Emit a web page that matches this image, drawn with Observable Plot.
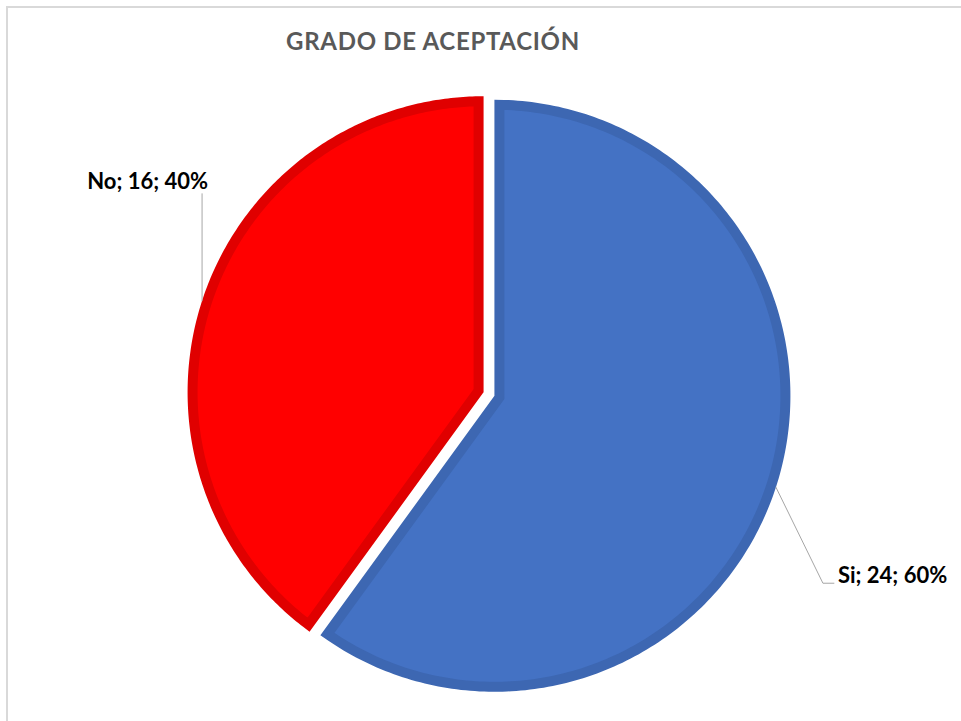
<!DOCTYPE html>
<html><head><meta charset="utf-8">
<script src="https://cdn.jsdelivr.net/npm/d3@7"></script>
<script src="https://cdn.jsdelivr.net/npm/@observablehq/plot@0.6"></script>
<style>
body{margin:0;background:#fff;}
#wrap{position:relative;width:961px;height:721px;overflow:hidden;background:#fff;}
#wrap svg{position:absolute;left:0;top:0;}
#frame{position:absolute;left:6px;top:6px;width:1000px;height:1000px;border-left:2px solid #d9d9d9;border-top:2px solid #d9d9d9;pointer-events:none;}
</style></head><body><div id="wrap"><div id="frame"></div></div>
<script>
const title = "GRADO DE ACEPTACIÓN";
const categories = ["Si", "No"];
const values = [24, 16];
const fills = ["#4472C4", "#FF0000"];
const borders = ["#3D67B2", "#E00000"];

// layout (styles)
const W = 961, H = 721, cx = 488.5, cy = 393.5, R = 296, explode = 5.7, bw = 10;
const leaderLayout = {
  Si: {path: [[0, 0], [47, 96], [58, 96]], anchor: "start", tdx: 4, tdy: -7},
  No: {path: [[0, 0], [0, -107]], anchor: "end", tdx: 6, tdy: -12}
};

const total = d3.sum(values);
const arcs = d3.pie().sort(null)(values);
const pt = (x, y, a, r) => [x + r * Math.sin(a), y - r * Math.cos(a)];

const slices = arcs.map((a, i) => {
  const mid = (a.startAngle + a.endAngle) / 2;
  const [ox, oy] = pt(cx, cy, mid, explode);
  const theta = a.endAngle - a.startAngle;
  const h = bw / 2;
  const [ax, ay] = pt(ox, oy, mid, h / Math.sin(theta / 2));
  const ri = R - h;
  const delta = Math.asin(h / ri);
  const pts = [{x: ax, y: ay}];
  const n = 240;
  for (let k = 0; k <= n; k++) {
    const t = a.startAngle + delta + (theta - 2 * delta) * k / n;
    const [x, y] = pt(ox, oy, t, ri);
    pts.push({x, y});
  }
  const [lx, ly] = pt(ox, oy, mid, R);
  const cat = categories[i];
  const lay = leaderLayout[cat];
  const leader = lay.path.map(([dx, dy]) => ({x: lx + dx, y: ly + dy}));
  const last = leader[leader.length - 1];
  const pct = Math.round(values[i] / total * 100) + "%";
  return {
    cat, pts, fill: fills[i], border: borders[i], leader,
    label: {x: last.x + lay.tdx, y: last.y + lay.tdy, text: `${cat}; ${values[i]}; ${pct}`, anchor: lay.anchor}
  };
});

const marks = [];
for (const s of slices) {
  marks.push(Plot.line(s.pts, {x: "x", y: "y", curve: "linear-closed", fill: s.fill, stroke: s.border, strokeWidth: bw, strokeLinejoin: "miter", strokeMiterlimit: 10}));
}
for (const s of slices) {
  marks.push(Plot.line(s.leader, {x: "x", y: "y", stroke: "#a6a6a6", strokeWidth: 1}));
  marks.push(Plot.text([s.label], {x: "x", y: "y", text: "text", textAnchor: s.label.anchor, lineAnchor: "middle", fontSize: 22, fontWeight: "bold", fill: "#000"}));
}
marks.push(Plot.text([title], {frameAnchor: "top", dx: -48, dy: 42, lineAnchor: "middle", text: d => d, fontSize: 24, fontWeight: "bold", fill: "#595959"}));

const chart = Plot.plot({
  width: W, height: H, margin: 0,
  x: {domain: [0, W], range: [0, W], axis: null},
  y: {domain: [0, H], range: [0, H], axis: null},
  style: {fontFamily: "Lato, 'Open Sans', sans-serif", background: "transparent"},
  marks
});
d3.select(chart).selectAll("text").filter(function() { return this.textContent === title; }).style("letter-spacing", "0.7px");
document.getElementById("wrap").prepend(chart);
</script></body></html>
